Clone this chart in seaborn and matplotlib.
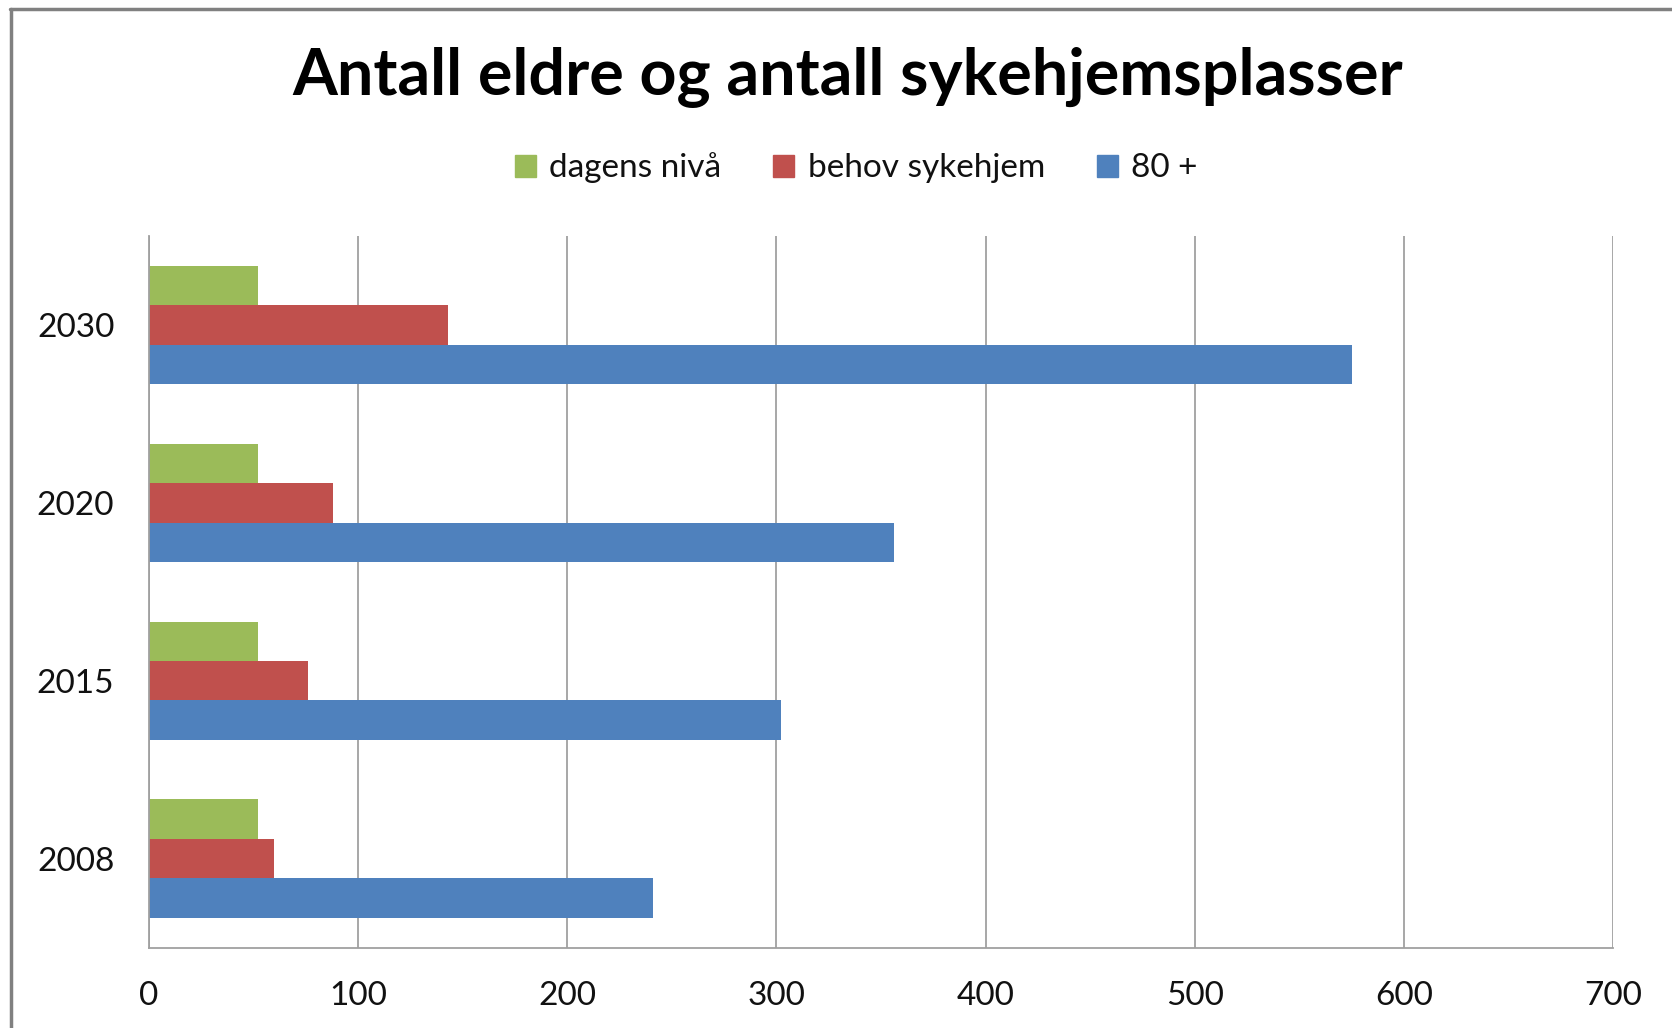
import pandas as pd
import matplotlib.pyplot as plt
import matplotlib.patches as mpatches
import seaborn as sns

sns.set_theme(style="white")
plt.rcParams['font.family'] = ['Lato', 'DejaVu Sans']

# data
years = ["2030", "2020", "2015", "2008"]
dagens_niva = [52, 52, 52, 52]
behov_sykehjem = [143, 88, 76, 60]
over_80 = [575, 356, 302, 241]

series = ["dagens nivå", "behov sykehjem", "80 +"]
colors = ["#9BBB59", "#C0504D", "#4F81BD"]

df = pd.DataFrame({
    "år": years * 3,
    "serie": [series[0]] * 4 + [series[1]] * 4 + [series[2]] * 4,
    "antall": dagens_niva + behov_sykehjem + over_80,
})

fig = plt.figure(figsize=(16.72, 10.28), dpi=100)
ax = fig.add_axes([149 / 1672, 1 - 947.5 / 1028, (1613 - 149) / 1672, (947.5 - 236) / 1028])

sns.barplot(data=df, x="antall", y="år", hue="serie", order=years, hue_order=series,
            palette=colors, orient="h", width=0.665, dodge=True, saturation=1,
            linewidth=0, ax=ax, legend=False)

ax.set_xlim(0, 700)
ax.set_ylim(3.5, -0.5)
ax.set_xticks(range(0, 701, 100))
ax.xaxis.grid(True, color="#a0a0a0", linewidth=1.3)
ax.set_axisbelow(True)
ax.set_xlabel("")
ax.set_ylabel("")
ax.tick_params(axis="both", length=0, labelsize=24, colors="#111111")
ax.tick_params(axis="y", pad=25)
ax.tick_params(axis="x", pad=24)
for side in ["top", "right"]:
    ax.spines[side].set_visible(False)
for side in ["left", "bottom"]:
    ax.spines[side].set_color("#a0a0a0")
    ax.spines[side].set_linewidth(1.3)

handles = [mpatches.Patch(color=c, label=s) for c, s in zip(colors, series)]
leg = fig.legend(handles=handles, loc="center", bbox_to_anchor=(0.512, 1 - 168 / 1028), ncol=3,
                 frameon=False, fontsize=24, handlelength=0.64, handleheight=0.64,
                 handletextpad=0.4, columnspacing=1.55)
for t in leg.get_texts():
    t.set_color("#111111")

fig.text(0.507, 1 - 78 / 1028, "Antall eldre og antall sykehjemsplasser",
         ha="center", va="center", fontsize=46.5, fontweight="bold", color="black")

# outer frame lines (top and left) like the cropped screenshot
fig.add_artist(plt.Line2D([9.5 / 1672, 1], [1 - 8.5 / 1028] * 2, color="#808080", linewidth=2.5,
                          transform=fig.transFigure))
fig.add_artist(plt.Line2D([10.5 / 1672] * 2, [0, 1 - 8.5 / 1028], color="#808080", linewidth=2.5,
                          transform=fig.transFigure))

fig.savefig("out.png", dpi=100)
